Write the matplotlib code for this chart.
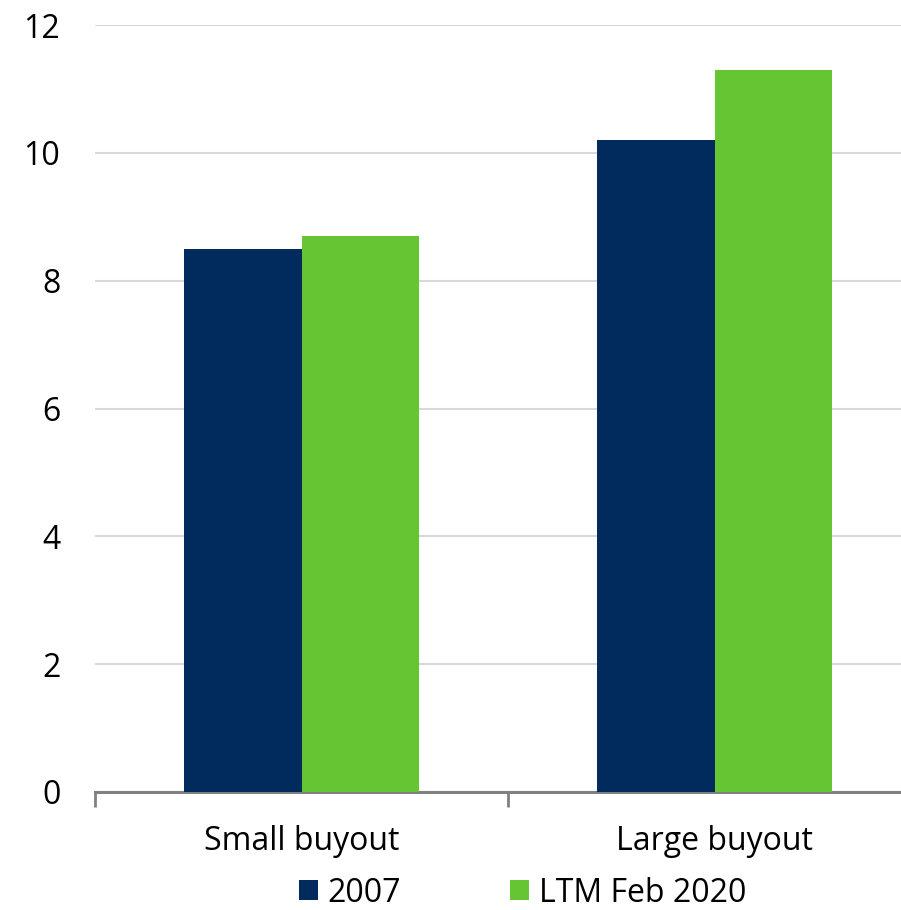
import matplotlib
matplotlib.use("Agg")
import matplotlib.pyplot as plt
import numpy as np

categories = ["Small buyout", "Large buyout"]
series_names = ["2007", "LTM Feb 2020"]
values_2007 = [8.5, 10.2]
values_ltm = [8.7, 11.3]
yticks = [0, 2, 4, 6, 8, 10, 12]

plt.rcParams['font.family'] = ['Open Sans', 'DejaVu Sans']
FS = 23

fig = plt.figure(figsize=(9.01, 9.10), dpi=100)
ax = fig.add_axes([95/901, 1-792/910, 826/901, (792-25)/910])

x = np.arange(len(categories))
w = 0.2857
navy = "#002B5C"
green = "#66C533"
ax.bar(x - w/2, values_2007, w, color=navy, label=series_names[0], zorder=3)
ax.bar(x + w/2, values_ltm, w, color=green, label=series_names[1], zorder=3)

ax.set_xlim(-0.5, 1.5)
ax.set_ylim(0, 12)
ax.set_yticks(yticks)
ax.set_yticklabels([str(v) for v in yticks], fontsize=FS)
ax.tick_params(axis='y', length=0, pad=25)
ax.yaxis.grid(True, color="#D9D9D9", linewidth=1.5, zorder=0)
ax.set_axisbelow(True)

ax.set_xticks([-0.5, 0.5, 1.5])
ax.set_xticklabels([])
ax.set_xticks(x, minor=True)
ax.set_xticklabels(categories, minor=True, fontsize=FS)
ax.tick_params(axis='x', which='major', length=11, width=2, color="#808080", direction='out')
ax.tick_params(axis='x', which='minor', length=0, pad=23.5)

for s in ['top', 'right', 'left']:
    ax.spines[s].set_visible(False)
ax.spines['bottom'].set_color("#808080")
ax.spines['bottom'].set_linewidth(2.2)

leg = fig.legend(loc='center', bbox_to_anchor=(0.58, 1-893/910), ncol=2, frameon=False,
                 fontsize=FS, handlelength=0.6, handleheight=0.6, handletextpad=0.3,
                 columnspacing=3.4, borderpad=0, borderaxespad=0)

fig.savefig("out.png", dpi=100)
